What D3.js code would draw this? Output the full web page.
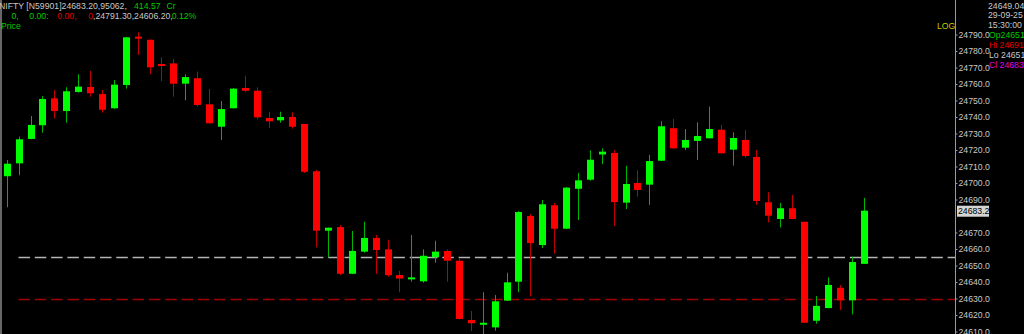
<!DOCTYPE html>
<html>
<head>
<meta charset="utf-8">
<script src="https://cdn.jsdelivr.net/npm/d3@7"></script>
<style>
  body { margin: 0; background: #000; }
  svg { display: block; }
</style>
</head>
<body>
<script>

// OHLC values, one entry per 1-minute bar
var opens  = [24704.1, 24711.9, 24726.7, 24735.0, 24751.3, 24743.6, 24755.2, 24758.2, 24753.9, 24745.3,
              24759.4, 24788.7, 24786.8, 24772.1, 24772.5, 24760.2, 24763.5, 24747.7, 24734.1, 24745.3,
              24757.6, 24755.9, 24739.4, 24738.0, 24740.0, 24735.8, 24707.1, 24671.1, 24673.3, 24645.0,
              24658.4, 24666.7, 24659.8, 24644.2, 24641.7, 24640.4, 24655.0, 24658.8, 24652.9, 24617.0,
              24614.1, 24612.5, 24628.7, 24640.2, 24680.0, 24662.4, 24686.5, 24672.3, 24696.5, 24702.0,
              24717.3, 24718.2, 24688.1, 24700.0, 24699.0, 24713.5, 24733.2, 24721.4, 24725.5, 24727.1,
              24732.3, 24720.2, 24726.1, 24715.8, 24688.3, 24678.2, 24684.7, 24676.5, 24616.5, 24624.2,
              24636.5, 24628.9, 24651.0];
var highs  = [24713.9, 24728.1, 24740.6, 24752.7, 24756.4, 24758.0, 24765.9, 24767.9, 24756.4, 24762.4,
              24788.5, 24791.3, 24787.0, 24776.2, 24775.2, 24765.9, 24767.5, 24757.0, 24749.7, 24757.6,
              24765.0, 24758.0, 24743.2, 24743.2, 24742.8, 24735.8, 24707.9, 24673.0, 24674.5, 24670.9,
              24676.5, 24668.5, 24665.6, 24646.8, 24668.5, 24659.8, 24665.0, 24659.8, 24653.9, 24622.4,
              24633.8, 24632.1, 24645.6, 24683.0, 24681.2, 24689.7, 24687.9, 24697.4, 24706.1, 24719.8,
              24721.0, 24720.0, 24710.4, 24707.7, 24717.0, 24737.4, 24738.8, 24732.7, 24736.8, 24746.2,
              24735.2, 24730.7, 24732.1, 24720.0, 24694.4, 24687.9, 24692.7, 24676.5, 24631.5, 24642.8,
              24638.2, 24655.3, 24691.0];
var lows   = [24685.3, 24704.7, 24726.5, 24730.5, 24739.0, 24736.5, 24754.8, 24752.3, 24742.6, 24745.0,
              24757.2, 24777.6, 24765.9, 24761.8, 24752.3, 24750.1, 24746.2, 24736.0, 24726.1, 24745.2,
              24755.3, 24738.6, 24733.3, 24736.5, 24732.9, 24706.1, 24661.0, 24655.0, 24644.2, 24644.8,
              24657.8, 24645.0, 24643.2, 24633.8, 24640.2, 24639.6, 24651.7, 24640.2, 24617.3, 24610.3,
              24606.2, 24610.5, 24628.5, 24633.8, 24631.3, 24660.6, 24657.2, 24672.1, 24677.6, 24701.4,
              24711.4, 24673.9, 24684.2, 24691.7, 24686.7, 24713.4, 24720.9, 24720.0, 24713.9, 24727.0,
              24717.9, 24710.5, 24715.3, 24686.8, 24676.1, 24673.0, 24678.1, 24615.2, 24614.7, 24624.1,
              24623.0, 24620.4, 24651.0];
var closes = [24711.7, 24726.5, 24735.2, 24750.9, 24743.6, 24755.6, 24758.4, 24754.4, 24744.4, 24759.6,
              24788.3, 24787.5, 24770.1, 24771.5, 24760.2, 24764.2, 24747.3, 24736.2, 24744.8, 24757.2,
              24755.9, 24739.8, 24737.4, 24740.0, 24734.1, 24706.8, 24671.1, 24672.9, 24645.0, 24658.8,
              24666.7, 24659.4, 24644.1, 24642.1, 24642.8, 24655.9, 24658.4, 24652.9, 24617.6, 24615.0,
              24615.3, 24628.3, 24639.8, 24682.4, 24663.6, 24687.1, 24672.3, 24697.2, 24701.6, 24714.1,
              24719.0, 24688.4, 24699.4, 24695.8, 24713.3, 24734.4, 24721.0, 24726.1, 24728.5, 24732.7,
              24718.0, 24727.3, 24716.4, 24689.1, 24680.2, 24684.7, 24678.2, 24615.3, 24625.5, 24638.2,
              24628.9, 24652.1, 24683.2];

// price axis ticks and reference lines
var tickValues = [24790, 24780, 24770, 24760, 24750, 24740, 24730, 24720, 24710, 24700,
                  24690, 24670, 24660, 24650, 24640, 24630, 24620, 24610];
var lastPrice = 24683.2;
var whiteLevel = 24655.2;
var redLevel = 24630;

// header and data window texts
var infoLines = ["24649.04", "29-09-25", "15:30:00"];
var ohlcLabels = [["Op", "24651", "#00c800"], ["Hi", " 24691", "#e00000"],
                  ["Lo", " 24651", "#c8c8c8"], ["Cl", " 24683", "#e000e0"]];

drawChart();

function drawChart(){

  var w = 1024;
  var h = 334;
  var axisX = 955;
  var font = "'Liberation Sans', Arial, sans-serif";

  var svg = d3.select("body")
              .append("svg")
              .attr("width", w)
              .attr("height", h)
              .style("background", "#000");

  var data = opens.map((o, i) => ({i: i, o: o, h: highs[i], l: lows[i], c: closes[i]}));

  // Scales
  var xScale = d3.scaleLinear()
                 .domain([0, data.length - 1])
                 .range([6.7, 863.5]);

  var yScale = d3.scaleLinear()
                 .domain([24600, 24810])
                 .range([348, 1.5]);

  var bodyW = 7;

  // left frame line and price axis line
  svg.append("line")
     .attr("x1", 1).attr("x2", 1)
     .attr("y1", 0).attr("y2", h)
     .attr("stroke", "#8a8a8a").attr("stroke-width", 1.5);

  svg.append("line")
     .attr("x1", axisX + 0.5).attr("x2", axisX + 0.5)
     .attr("y1", 0).attr("y2", h)
     .attr("stroke", "#9a9a9a").attr("stroke-width", 1);

  // horizontal dashed levels
  svg.append("line")
     .attr("x1", 18.5).attr("x2", axisX)
     .attr("y1", Math.round(yScale(whiteLevel)) + 0.5)
     .attr("y2", Math.round(yScale(whiteLevel)) + 0.5)
     .attr("stroke", "#b4b4b4").attr("stroke-width", 1.3)
     .attr("stroke-dasharray", "11.5,4.8");

  svg.append("line")
     .attr("x1", 18.5).attr("x2", axisX)
     .attr("y1", Math.round(yScale(redLevel)) + 0.5)
     .attr("y2", Math.round(yScale(redLevel)) + 0.5)
     .attr("stroke", "#a00000").attr("stroke-width", 1.3)
     .attr("stroke-dasharray", "11.5,4.8");

  // Candles
  var candles = svg.append("g")
                   .selectAll("g")
                   .data(data)
                   .enter()
                   .append("g");

  candles.append("line")
         .attr("x1", d => Math.round(xScale(d.i)) + 0.5)
         .attr("x2", d => Math.round(xScale(d.i)) + 0.5)
         .attr("y1", d => yScale(d.h))
         .attr("y2", d => yScale(d.l))
         .attr("stroke", d => d.c >= d.o ? "#00b400" : "#c00000")
         .attr("stroke-width", 1);

  candles.append("rect")
         .attr("x", d => Math.round(xScale(d.i)) + 0.5 - bodyW / 2)
         .attr("y", d => yScale(Math.max(d.o, d.c)))
         .attr("width", bodyW)
         .attr("height", d => Math.max(2, Math.abs(yScale(d.o) - yScale(d.c))))
         .attr("fill", d => d.c >= d.o ? "#00ff00" : "#ff0000");

  // Price axis on the right
  var yAxis = d3.axisRight(yScale)
                .tickValues(tickValues)
                .tickFormat(d3.format(".1f"))
                .tickSize(2)
                .tickPadding(1);

  var axisG = svg.append("g")
                 .attr("transform", `translate(${axisX + 0.5}, 0)`)
                 .call(yAxis);

  axisG.select(".domain").remove();
  axisG.selectAll("line").attr("stroke", "#9a9a9a");
  axisG.selectAll("text")
       .attr("fill", "#c8c8c8")
       .style("font-family", font)
       .style("font-size", "8.7px");

  // last price tag
  var yLast = yScale(lastPrice);
  svg.append("rect")
     .attr("x", axisX + 2)
     .attr("y", yLast - 5)
     .attr("width", 32)
     .attr("height", 11)
     .attr("fill", "#d4d4d4");

  svg.append("text")
     .attr("x", axisX + 3)
     .attr("y", yLast + 3.5)
     .attr("fill", "#000")
     .style("font-family", font)
     .style("font-size", "8.7px")
     .text(d3.format(".1f")(lastPrice));

  // LOG marker
  svg.append("text")
     .attr("x", 937)
     .attr("y", 29)
     .attr("fill", "#c8c800")
     .style("font-family", font)
     .style("font-size", "8.7px")
     .text("LOG");

  // data window on the far right
  infoLines.forEach((t, k) => {
    svg.append("text")
       .attr("x", 988)
       .attr("y", 8.5 + k * 9.9)
       .attr("fill", "#c8c8c8")
       .style("font-family", font)
       .style("font-size", "8.7px")
       .text(t);
  });

  ohlcLabels.forEach((t, k) => {
    svg.append("text")
       .attr("x", 989)
       .attr("y", 38 + k * 9.9)
       .attr("fill", t[2])
       .style("font-family", font)
       .style("font-size", "8.7px")
       .text(t[0] + t[1]);
  });

  // header at top left
  function headerText(x, y, color, str){
    svg.append("text")
       .attr("x", x)
       .attr("y", y)
       .attr("fill", color)
       .style("font-family", font)
       .style("font-size", "8.7px")
       .text(str);
  }

  headerText(-1, 8.5, "#c8c8c8", "NIFTY [N59901]24683.20,95062,");
  headerText(134, 8.5, "#00c800", "414.57");
  headerText(166.5, 8.5, "#00c800", "Cr");

  headerText(11.5, 19, "#00c800", "0,");
  headerText(29.3, 19, "#00c800", "0.00:");
  headerText(57.3, 19, "#e00000", "0.00,");
  headerText(88.3, 19, "#e00000", "0");
  headerText(93, 19, "#c8c8c8", ",24791.30,24606.20,");
  headerText(171.7, 19, "#00c800", "0.12%");

  headerText(1, 28.5, "#00c800", "Price");
}

</script>
</body>
</html>
